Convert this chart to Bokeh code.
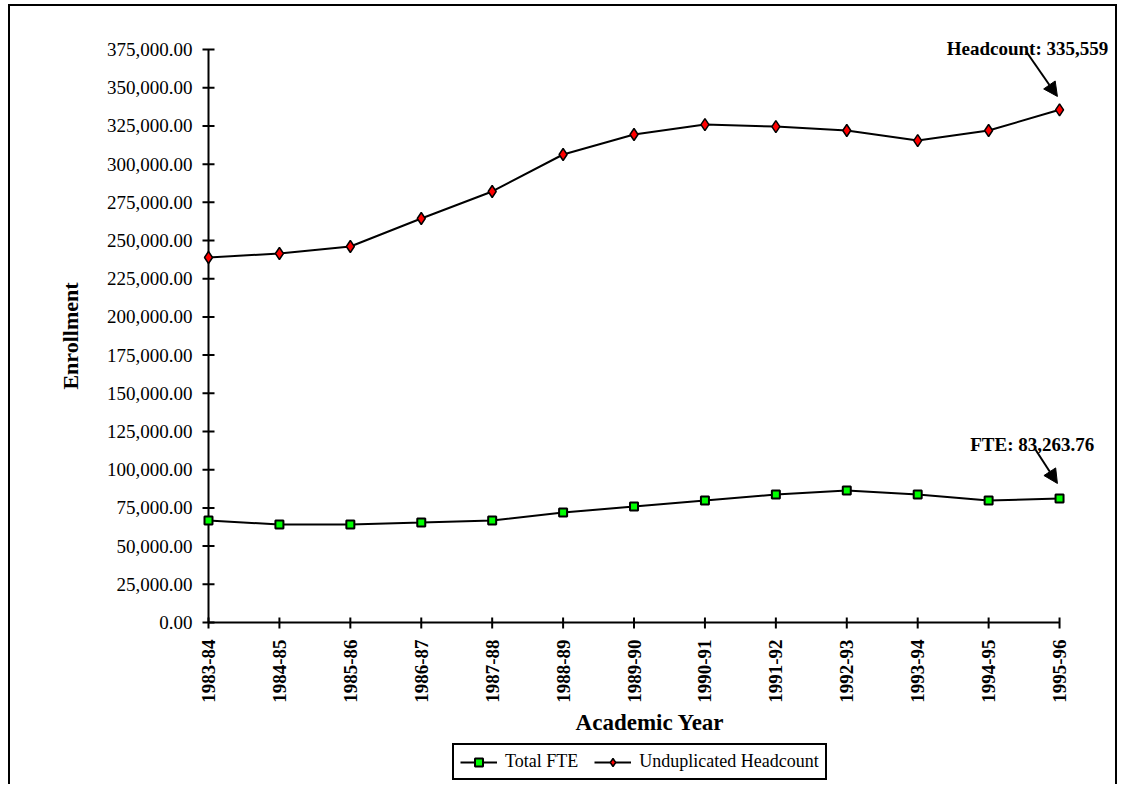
import math
from bokeh.plotting import figure
from bokeh.models import Range1d, Label, Arrow, NormalHead, Legend, LegendItem
from bokeh.core.properties import value
from bokeh.embed import file_html
from bokeh.resources import INLINE

years = ["1983-84", "1984-85", "1985-86", "1986-87", "1987-88", "1988-89", "1989-90",
         "1990-91", "1991-92", "1992-93", "1993-94", "1994-95", "1995-96"]
total_fte = [66800, 64100, 64100, 65400, 66800, 72000, 75900, 79800, 83800, 86400,
             83800, 79800, 81200]
headcount = [238900, 241500, 246100, 264400, 282100, 306300, 319400, 325900, 324600,
             322000, 315400, 322000, 335559]
y_ticks = list(range(0, 375001, 25000))
y_tick_labels = [f"{v:,.2f}" for v in y_ticks]

FONT = "Liberation Serif"
xs = list(range(len(years)))
n = len(years) - 1
y_top = y_ticks[-1]

# scale: ~70.92 px per year, ~654.5 units per px vertically
PX_X = 1 / 70.92
PX_Y = 654.5

p = figure(width=1109, height=780, output_backend="svg", toolbar_location=None,
           x_axis_type=None, y_axis_type=None,
           x_range=Range1d(-198 * PX_X, 911 * PX_X),
           y_range=Range1d(-164 * PX_Y, 616 * PX_Y),
           min_border=0)
p.styles = {"margin-left": "8px", "margin-top": "4px",
            "border-top": "2px solid black", "border-left": "2px solid black",
            "border-right": "2px solid black"}
p.outline_line_color = None
p.grid.visible = False
p.background_fill_color = "white"
p.border_fill_color = "white"

# axis lines
p.segment(x0=[0, 0], y0=[0, 0], x1=[0, n], y1=[y_top, 0], line_color="black",
          line_width=2)
# y ticks (cross the axis) and labels
p.segment(x0=[-6 * PX_X] * len(y_ticks), x1=[6 * PX_X] * len(y_ticks),
          y0=y_ticks, y1=y_ticks, line_color="black", line_width=2)
p.text(x=[-16 * PX_X] * len(y_ticks), y=y_ticks, text=y_tick_labels,
       text_font=value(FONT), text_font_size=value("19px"), text_color="black",
       text_align="right", text_baseline="middle")
# x ticks and labels
p.segment(x0=xs, x1=xs, y0=[-6 * PX_Y] * len(xs), y1=[5 * PX_Y] * len(xs),
          line_color="black", line_width=2)
p.text(x=xs, y=[-17 * PX_Y] * len(xs), text=years, angle=math.pi / 2,
       text_font=value(FONT), text_font_size=value("19px"), text_font_style="bold",
       text_color="black", text_align="right", text_baseline="middle")
# axis titles
p.add_layout(Label(x=n / 2 + 16 * PX_X, y=-100 * PX_Y, text="Academic Year",
                   text_font=FONT, text_font_size="23px", text_font_style="bold",
                   text_color="black", text_align="center", text_baseline="middle"))
p.add_layout(Label(x=-138 * PX_X, y=y_top / 2, text="Enrollment", angle=math.pi / 2,
                   text_font=FONT, text_font_size="22px", text_font_style="bold",
                   text_color="black", text_align="center", text_baseline="middle"))

# series
l1 = p.line(xs, total_fte, line_color="black", line_width=2)
s1 = p.scatter(xs, total_fte, marker="square", size=8, fill_color="#00ff00",
               line_color="black", line_width=2)
l2 = p.line(xs, headcount, line_color="black", line_width=2)
s2 = p.scatter(xs, headcount, marker="diamond", size=12, fill_color="#ff0000",
               line_color="black", line_width=1.5)

# annotations
p.add_layout(Label(x=10.41, y=375700, text="Headcount:  335,559", text_font=FONT,
                   text_font_size="19px", text_font_style="bold", text_color="black",
                   text_baseline="alphabetic"))
p.add_layout(Arrow(x_start=11.53, y_start=373700, x_end=11.97, y_end=344300,
                   line_width=2, line_color="black",
                   end=NormalHead(size=14, fill_color="black", line_color="black")))
p.add_layout(Label(x=10.74, y=116500, text="FTE:  83,263.76", text_font=FONT,
                   text_font_size="19px", text_font_style="bold", text_color="black",
                   text_baseline="alphabetic"))
p.add_layout(Arrow(x_start=11.66, y_start=113200, x_end=11.97, y_end=91000,
                   line_width=2, line_color="black",
                   end=NormalHead(size=14, fill_color="black", line_color="black")))

legend = Legend(items=[LegendItem(label="Total FTE", renderers=[l1, s1]),
                       LegendItem(label="Unduplicated Headcount", renderers=[l2, s2])],
                orientation="horizontal", location=(442, 6))
legend.label_text_font = FONT
legend.label_text_font_size = "18px"
legend.label_text_color = "black"
legend.border_line_color = "black"
legend.border_line_alpha = 1.0
legend.border_line_width = 2
legend.background_fill_alpha = 1.0
legend.glyph_width = 37
legend.glyph_height = 20
legend.spacing = 16
legend.padding = 6
legend.margin = 0
legend.label_standoff = 8
p.add_layout(legend, "center")

open("out.html", "w").write(file_html(p, INLINE))
